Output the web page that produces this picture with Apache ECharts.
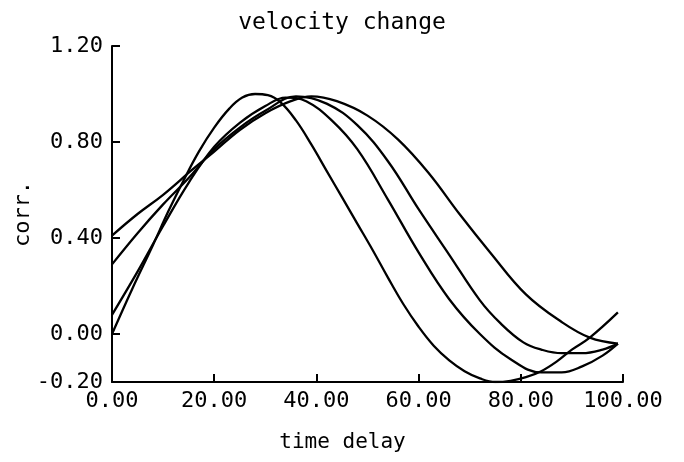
<!DOCTYPE html>
<html>
<head>
<meta charset="utf-8">
<script src="https://cdn.jsdelivr.net/npm/echarts@6/dist/echarts.min.js"></script>
<style>
html,body{margin:0;padding:0;background:#fff;}
#chart{width:684px;height:462px;}
</style>
</head>
<body>
<div id="chart"></div>
<script>
// ---- data ----
var titleText = 'velocity change';
var xName = 'time delay';
var yName = 'corr.';
var xTicks = [0, 20, 40, 60, 80, 100];
var yTicks = [-0.2, 0, 0.4, 0.8, 1.2];

var t1 = [0, 4, 8, 11, 14, 17, 20, 23, 25.5, 28, 30.5, 33, 36, 39, 42, 45, 48, 51, 54, 57, 60, 63, 66, 69, 72, 75, 78, 81, 84, 87, 90, 93.5, 99];
var v1 = [0.00, 0.19, 0.37, 0.51, 0.64, 0.76, 0.86, 0.94, 0.985, 1.00, 0.995, 0.965, 0.89, 0.79, 0.68, 0.57, 0.46, 0.35, 0.235, 0.125, 0.03, -0.05, -0.11, -0.155, -0.185, -0.20, -0.195, -0.18, -0.155, -0.115, -0.065, -0.015, 0.09];

var t2 = [0, 5, 10, 15, 20, 25, 30, 34, 38, 43, 48, 54, 60, 66, 72, 78, 84, 88, 92, 96, 99];
var v2 = [0.08, 0.26, 0.45, 0.63, 0.78, 0.88, 0.95, 0.985, 0.97, 0.89, 0.77, 0.56, 0.34, 0.145, 0.00, -0.105, -0.16, -0.16, -0.135, -0.09, -0.04];

var t3 = [0, 5, 10, 15, 20, 25, 30, 36, 42, 48, 54, 60, 66, 72, 76, 80.5, 84, 88, 92, 96, 99];
var v3 = [0.29, 0.42, 0.54, 0.65, 0.77, 0.86, 0.93, 0.99, 0.96, 0.87, 0.72, 0.52, 0.33, 0.14, 0.045, -0.035, -0.065, -0.08, -0.08, -0.065, -0.04];

var t4 = [0, 5, 10, 16, 20, 25, 30, 35, 39, 44, 50, 56, 62, 68, 74, 81, 88, 93.5, 99];
var v4 = [0.41, 0.50, 0.58, 0.69, 0.76, 0.85, 0.92, 0.97, 0.99, 0.97, 0.91, 0.81, 0.67, 0.50, 0.34, 0.165, 0.05, -0.015, -0.04];

function pairs(t, v) { return t.map(function (x, i) { return [x, v[i]]; }); }

var FONT = '"DejaVu Sans Mono", "Liberation Mono", monospace';
var INK = '#000';

function lineSeries(t, v) {
  return {
    type: 'line', data: pairs(t, v), smooth: 0.4, symbol: 'none',
    lineStyle: { color: INK, width: 2.3 }, silent: true
  };
}

var chart = echarts.init(document.getElementById('chart'), null, { renderer: 'canvas' });
chart.setOption({
  animation: false,
  backgroundColor: '#fff',
  title: {
    text: titleText, left: 'center', top: 7,
    textStyle: { fontFamily: FONT, fontSize: 23, fontWeight: 'normal', color: INK }
  },
  grid: { left: 112, right: 61, top: 46, bottom: 80, containLabel: false, outerBoundsMode: 'none' },
  xAxis: {
    type: 'value', min: 0, max: 100, interval: 20,
    name: xName, nameLocation: 'middle', nameGap: 50, nameMoveOverlap: false,
    nameTextStyle: { fontFamily: FONT, fontSize: 21, color: INK, padding: [0, 50, 0, 0] },
    axisLine: { onZero: false, lineStyle: { color: INK, width: 2 } },
    axisTick: { inside: true, length: 8, lineStyle: { color: INK, width: 2 } },
    axisLabel: { fontFamily: FONT, fontSize: 22, color: INK, margin: 8,
      formatter: function (v) { return v.toFixed(2); } },
    splitLine: { show: false }
  },
  yAxis: {
    type: 'value', min: -0.2, max: 1.2,
    name: yName, nameLocation: 'middle', nameGap: 78, nameRotate: 90, nameMoveOverlap: false,
    nameTextStyle: { fontFamily: FONT, fontSize: 22, color: INK },
    axisLine: { onZero: false, lineStyle: { color: INK, width: 2 } },
    axisTick: { inside: true, length: 8, customValues: yTicks, lineStyle: { color: INK, width: 2 } },
    axisLabel: { fontFamily: FONT, fontSize: 22, color: INK, margin: 9, customValues: yTicks,
      formatter: function (v) { return v.toFixed(2); } },
    splitLine: { show: false }
  },
  series: [lineSeries(t1, v1), lineSeries(t2, v2), lineSeries(t3, v3), lineSeries(t4, v4)]
});
</script>
</body>
</html>
